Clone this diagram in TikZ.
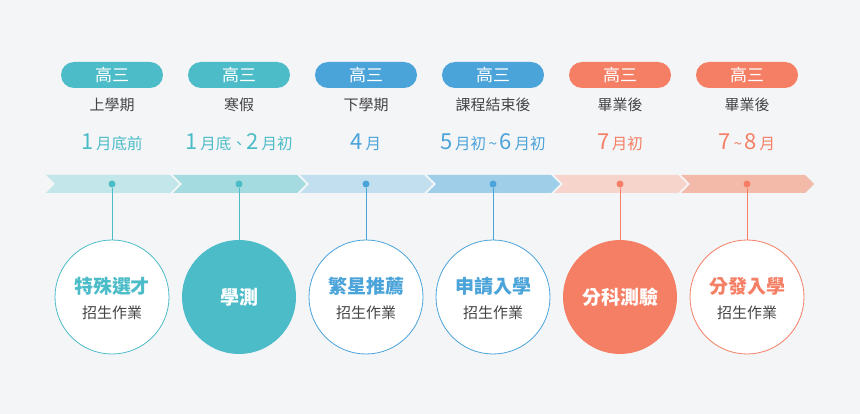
\documentclass[tikz,border=0pt]{standalone}
\usepackage{fontspec}
\usetikzlibrary{calc}
\setmainfont{Noto Sans CJK TC}
\definecolor{bg}{HTML}{F4F5F7}
\definecolor{tl}{HTML}{4CBCC8}
\definecolor{bl}{HTML}{4AA3D9}
\definecolor{og}{HTML}{F47F64}
\definecolor{cA}{HTML}{C2E6EA}
\definecolor{cB}{HTML}{A3DBE0}
\definecolor{cC}{HTML}{C2DFF0}
\definecolor{cD}{HTML}{9FCFE8}
\definecolor{cE}{HTML}{F6D3CB}
\definecolor{cF}{HTML}{F3B9A9}
\definecolor{gt}{HTML}{444444}
\tikzset{
 pill/.style={fill=#1,rounded corners=13pt,minimum width=102pt,minimum height=26pt,inner sep=0,text=white,font=\fontsize{17}{17}\selectfont},
 lbl/.style={text=gt,font=\fontsize{15}{15}\selectfont},
 date/.style={text=#1,font=\fontsize{15.5}{15.5}\selectfont},
 ring/.style={circle,draw=#1,line width=0.8pt,fill=white,minimum size=114pt,inner sep=0,align=center},
 full/.style={circle,fill=#1,minimum size=114pt,inner sep=0,align=center,text=white},
 dot/.style={circle,fill=#1,minimum size=7pt,inner sep=0},
}
\newcommand{\bignum}[1]{{\fontsize{22}{22}\selectfont #1}}
\begin{document}
\begin{tikzpicture}[x=1pt,y=-1pt]
\fill[bg] (0,0) rectangle (860,414);
\useasboundingbox (0,0) rectangle (860,414);
\foreach \i/\c in {0/cA,1/cB,2/cC,3/cD,4/cE,5/cF}{
  \pgfmathsetmacro{\L}{46+127*\i}
  \fill[\c] (\L,175) -- ++(124,0) -- ++(9,9) -- ++(-9,9) -- (\L,193) -- ++(9,-9) -- cycle;
}
\foreach \i/\c/\lb/\dt/\st in {
 0/tl/上學期/{\bignum{1}\,月底前}/ring,
 1/tl/寒假/{\bignum{1}\,月底、\bignum{2}\,月初}/full,
 2/bl/下學期/{\bignum{4}\,月}/ring,
 3/bl/課程結束後/{\bignum{5}\,月初\,\textasciitilde\,\bignum{6}\,月初}/ring,
 4/og/畢業後/{\bignum{7}\,月初}/full,
 5/og/畢業後/{\bignum{7}\,\textasciitilde\,\bignum{8}\,月}/ring}{
  \pgfmathsetmacro{\X}{112+127*\i}
  \node[pill=\c] (p\i) at (\X,75) {高三};
  \node[lbl] (l\i) at (\X,105) {\lb};
  \node[date=\c] (d\i) at (\X,142) {\dt};
  \node[dot=\c] (k\i) at (\X,184) {};
  \node[\st=\c] (c\i) at (\X,297) {};
  \draw[\c,line width=0.8pt] (k\i) -- (c\i.north);
}
\foreach \i/\c/\ti in {0/tl/特殊選才,2/bl/繁星推薦,3/bl/申請入學,5/og/分發入學}{
  \node[text=\c,font=\fontsize{19}{19}\selectfont\bfseries] (t\i) at ($(c\i)+(0,-11)$) {\ti};
  \node[lbl] (s\i) at ($(c\i)+(0,16)$) {招生作業};
}
\node[text=white,font=\fontsize{19}{19}\selectfont\bfseries] (t1) at (c1) {學測};
\node[text=white,font=\fontsize{19}{19}\selectfont\bfseries] (t4) at (c4) {分科測驗};
\end{tikzpicture}
\end{document}
